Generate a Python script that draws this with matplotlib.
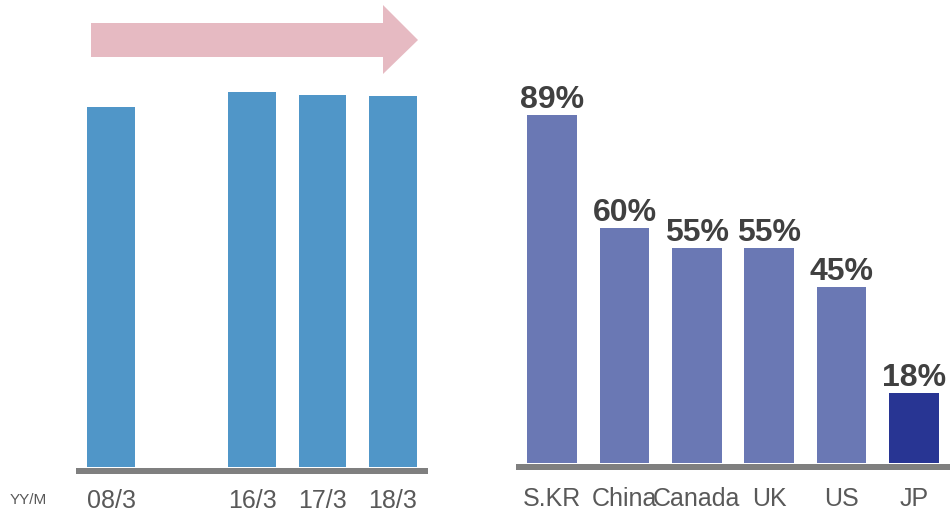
import matplotlib.pyplot as plt
from matplotlib.patches import Polygon

plt.rcParams['font.family'] = ['Liberation Sans', 'DejaVu Sans']

# left chart: relative level by year/month (index, 16/3 = 100)
left_labels = ["08/3", "16/3", "17/3", "18/3"]
left_pos = [0, 2, 3, 4]
left_values = [96, 100, 99.2, 98.9]

# right chart: share by country (%)
countries = ["S.KR", "China", "Canada", "UK", "US", "JP"]
shares = [89, 60, 55, 55, 45, 18]

W, H = 951, 513
fig = plt.figure(figsize=(W / 100, H / 100), dpi=100)


def px_axes(x0, x1, y_base, y_top):
    # axes box given in pixel coordinates (origin top-left)
    return fig.add_axes([x0 / W, (H - y_base) / H, (x1 - x0) / W, (y_base - y_top) / H])


def style_axes(ax):
    for s in ["left", "right", "top"]:
        ax.spines[s].set_visible(False)
    ax.spines["bottom"].set_position(("outward", 3))
    ax.spines["bottom"].set_linewidth(6 * 0.72)
    ax.spines["bottom"].set_color("#7F7F7F")
    ax.spines["bottom"].set_capstyle("butt")
    ax.set_yticks([])
    ax.tick_params(axis="x", length=0, pad=13, labelsize=18, labelcolor="#595959")
    ax.patch.set_alpha(0)


# ---- left chart
ax1 = px_axes(75.75, 428.25, 467, 92)
ax1.bar(left_pos, left_values, width=0.68, color="#5096C8", zorder=3)
ax1.set_xlim(-0.5, 4.5)
ax1.set_ylim(0, 100)
ax1.set_xticks(left_pos, left_labels)
style_axes(ax1)

fig.text(10 / W, 1 - 500 / H, "YY/M", fontsize=11, color="#595959", va="center", ha="left")

# pink arrow above the left chart
arrow_px = [(91, 23), (383, 23), (383, 5), (418, 40), (383, 74), (383, 57), (91, 57)]
arrow = Polygon([(x / W, 1 - y / H) for x, y in arrow_px], closed=True,
                facecolor="#E6BAC2", edgecolor="none", transform=fig.transFigure)
fig.patches.append(arrow)

# ---- right chart
ax2 = px_axes(516, 950, 463, 72)
colors = ["#6A78B4"] * (len(countries) - 1) + ["#283593"]
x2 = list(range(len(countries)))
bars = ax2.bar(x2, shares, width=0.69, color=colors, zorder=3)
ax2.set_xlim(-0.5, 5.5)
ax2.set_ylim(0, 100)
ax2.set_xticks(x2, countries)
style_axes(ax2)
ax2.tick_params(axis="x", pad=14)
for b, v in zip(bars, shares):
    ax2.annotate(f"{v}%", (b.get_x() + b.get_width() / 2, v), xytext=(0, 0),
                 textcoords="offset points", ha="center", va="bottom",
                 fontsize=23, fontweight="bold", color="#404040")

fig.savefig("out.png", dpi=100)
